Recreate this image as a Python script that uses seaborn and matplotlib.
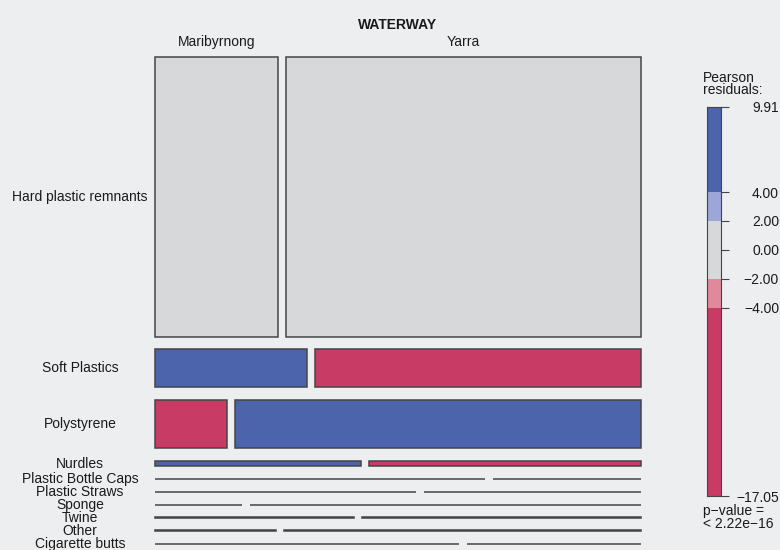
import numpy as np
import pandas as pd
import matplotlib
matplotlib.use("Agg")
import matplotlib.pyplot as plt
import seaborn as sns
from matplotlib.transforms import blended_transform_factory

# ---------------- data ----------------
categories = ["Hard plastic remnants", "Soft Plastics", "Polystyrene", "Nurdles",
              "Plastic Bottle Caps", "Plastic Straws", "Sponge", "Twine", "Other",
              "Cigarette butts"]
waterways = ["Maribyrnong", "Yarra"]
maribyrnong = [10549, 1779, 1073, 302, 20, 12, 2, 10, 28, 14]
yarra = [30451, 3801, 6037, 398, 9, 10, 9, 14, 82, 8]
p_value_text = "p\u2212value =\n< 2.22e\u221216"

# ---------------- style ----------------
BG = "#eceeef"
sns.set_theme(style="white", rc={"figure.facecolor": BG, "axes.facecolor": BG,
                                 "savefig.facecolor": BG})
plt.rcParams["font.family"] = ["Liberation Sans", "DejaVu Sans"]
band_colors = ["#c73b65", "#e0899c", "#d6d8da", "#9ca6d9", "#4b64ab"]  # low -> high
band_breaks = [-4, -2, 2, 4]
EDGE = "#454545"
FS = 10
TXT = "#1a1a1a"

df = pd.DataFrame({"Maribyrnong": maribyrnong, "Yarra": yarra}, index=categories)
obs = df.values.astype(float)
N = obs.sum()
row_tot = obs.sum(axis=1)
col_tot = obs.sum(axis=0)
expected = np.outer(row_tot, col_tot) / N
resid = (obs - expected) / np.sqrt(expected)
rmin, rmax = resid.min(), resid.max()


def shade(r):
    if r > 4:
        return band_colors[4]
    if r > 2:
        return band_colors[3]
    if r >= -2:
        return band_colors[2]
    if r >= -4:
        return band_colors[1]
    return band_colors[0]


fig = plt.figure(figsize=(7.8, 5.5), dpi=100)

# main mosaic axes (pixel geometry of the reference)
W, H = 780.0, 550.0
x0, x1 = 154.7, 641.0
y0, y1 = 57.3, 544.0
ax = fig.add_axes([x0 / W, (H - y1) / H, (x1 - x0) / W, (y1 - y0) / H])
ax.set_facecolor(BG)

nrows = len(categories)
gap_px = 12.75
tiles_px = (y1 - y0) - (nrows - 1) * gap_px
gx = 8.0 / ((x1 - x0) - 8.0)
gy = gap_px / tiles_px
ax.set_xlim(0, 1 + gx)
ax.set_ylim(1 + (nrows - 1) * gy, 0)
ax.axis("off")

row_h = row_tot / N
tops = np.concatenate([[0], np.cumsum(row_h + gy)[:-1]])
centers = tops + row_h / 2

top_row_centers = []
for i in range(nrows):
    fr = obs[i] / row_tot[i]
    lefts = [0.0, fr[0] + gx]
    cols = [shade(resid[i, j]) for j in range(2)]
    bars = ax.barh(y=[centers[i]] * 2, width=fr, left=lefts, height=row_h[i],
                   color=cols, edgecolor=EDGE, linewidth=1.1, align="center")
    for b in bars:
        b.set_clip_on(False)
    if i == 0:
        top_row_centers = [lefts[0] + fr[0] / 2, lefts[1] + fr[1] / 2]

# row labels
tr_rows = blended_transform_factory(fig.transFigure, ax.transData)
for i, cat in enumerate(categories):
    ax.text(80 / W, centers[i], cat, transform=tr_rows, ha="center", va="center",
            fontsize=FS, color=TXT)

# column labels
tr_cols = blended_transform_factory(ax.transData, fig.transFigure)
for j, w in enumerate(waterways):
    ax.text(top_row_centers[j], 1 - 42 / H, w, transform=tr_cols, ha="center",
            va="center", fontsize=FS, color=TXT)
fig.text(398 / W, 1 - 25 / H, "WATERWAY", ha="center", va="center",
         fontsize=FS, fontweight="bold", color=TXT)

# ---------------- legend ----------------
lx0, lx1 = 707.3, 720.7
ly0, ly1 = 106.7, 496.0
lax = fig.add_axes([lx0 / W, (H - ly1) / H, (lx1 - lx0) / W, (ly1 - ly0) / H])
edges = [rmin] + band_breaks + [rmax]
for k in range(len(band_colors)):
    lax.bar(x=0, height=edges[k + 1] - edges[k], bottom=edges[k], width=1.0,
            color=band_colors[k], linewidth=0)
lax.set_xlim(-0.5, 0.5)
lax.set_ylim(rmin, rmax)
lax.set_xticks([])
ticks = [rmin, -4, -2, 0, 2, 4, rmax]
lax.set_yticks(ticks)
lax.set_yticklabels([f"{t:.2f}".replace("-", "\u2212") for t in ticks])
lax.yaxis.tick_right()
# labels right-aligned just inside the figure's right edge
pad_pt = (779 - lx1 - 8.0) * 72 / 100
lax.tick_params(axis="y", right=True, left=False, direction="out", length=5.8,
                width=0.8, color="#444444", pad=pad_pt, labelsize=FS,
                labelcolor=TXT)
for lbl in lax.get_yticklabels():
    lbl.set_horizontalalignment("right")
for s in lax.spines.values():
    s.set_visible(True)
    s.set_color("#444444")
    s.set_linewidth(0.8)

fig.text(703 / W, 1 - 71 / H, "Pearson\nresiduals:", ha="left", va="top",
         fontsize=FS, linespacing=0.8, color=TXT)
fig.text(703 / W, 1 - 504 / H, p_value_text, ha="left", va="top",
         fontsize=FS, linespacing=0.95, color=TXT)

fig.savefig("out.png", dpi=100)
